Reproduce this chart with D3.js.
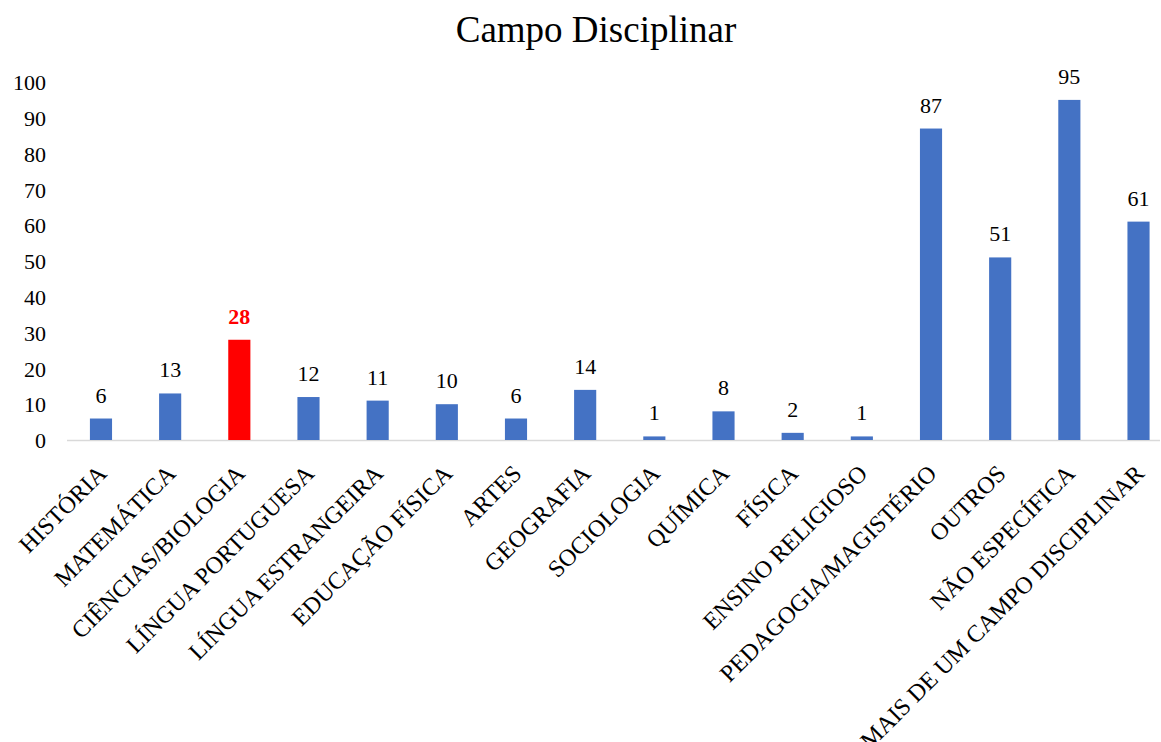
<!DOCTYPE html>
<html><head><meta charset="utf-8">
<script src="https://cdn.jsdelivr.net/npm/d3@7"></script>
<style>body{margin:0;background:#fff}svg{display:block}svg text{font-family:"Liberation Serif","Times New Roman",serif !important;fill:#000}</style>
</head><body><svg id="c" width="1161" height="742"></svg>
<script>
const categories = ["HISTÓRIA","MATEMÁTICA","CIÊNCIAS/BIOLOGIA","LÍNGUA PORTUGUESA","LÍNGUA ESTRANGEIRA","EDUCAÇÃO FÍSICA","ARTES","GEOGRAFIA","SOCIOLOGIA","QUÍMICA","FÍSICA","ENSINO RELIGIOSO","PEDAGOGIA/MAGISTÉRIO","OUTROS","NÃO ESPECÍFICA","MAIS DE UM CAMPO DISCIPLINAR"];
const values = [6,13,28,12,11,10,6,14,1,8,2,1,87,51,95,61];
const highlighted = ["CIÊNCIAS/BIOLOGIA"];
const yTicks = [0,10,20,30,40,50,60,70,80,90,100];
const title = "Campo Disciplinar";

const FONT = '"Liberation Serif","Times New Roman",serif';
const svg = d3.select("#c");
const x = d3.scaleBand().domain(categories).range([66.4, 1173.1]).paddingInner(0.68).paddingOuter(0.34);
const y = d3.scaleLinear().domain([0,100]).range([440,82]);

svg.append("text").attr("x",596).attr("y",42).attr("text-anchor","middle")
  .style("font-family",FONT).style("font-size","37px").text(title);

const ya = svg.append("g").attr("transform","translate(46,0)").call(d3.axisLeft(y).tickValues(yTicks).tickSize(0).tickPadding(0));
ya.select(".domain").remove();
ya.attr("font-family",null).attr("font-size",null);
ya.selectAll("text").style("font-family",FONT).style("font-size","22px").attr("dy","0.35em");

svg.append("line").attr("x1",67).attr("x2",1160).attr("y1",y(0)+0.5).attr("y2",y(0)+0.5).attr("stroke","#d9d9d9").attr("stroke-width",1.5);

const data = categories.map((c,i)=>({c,v:values[i],hl:highlighted.includes(c)}));
svg.selectAll("rect.bar").data(data).join("rect").attr("class","bar")
  .attr("x",d=>x(d.c)).attr("width",x.bandwidth())
  .attr("y",d=>y(d.v)).attr("height",d=>y(0)-y(d.v))
  .attr("fill",d=>d.hl?"#FF0000":"#4472C4");

svg.selectAll("text.val").data(data).join("text").attr("class","val")
  .attr("x",d=>x(d.c)+x.bandwidth()/2).attr("y",d=>y(d.v)-16)
  .attr("text-anchor","middle").style("font-family",FONT).style("font-size","22px")
  .style("font-weight",d=>d.hl?"bold":"normal").style("fill",d=>d.hl?"#FF0000":"#000")
  .text(d=>d.v);

svg.selectAll("text.cat").data(data).join("text").attr("class","cat")
  .attr("transform",d=>`translate(${x(d.c)+x.bandwidth()/2+1},${y(0)+29}) rotate(-45)`)
  .attr("text-anchor","end").attr("dy","0.35em").style("font-family",FONT).style("font-size","24px")
  .text(d=>d.c);
</script></body></html>
